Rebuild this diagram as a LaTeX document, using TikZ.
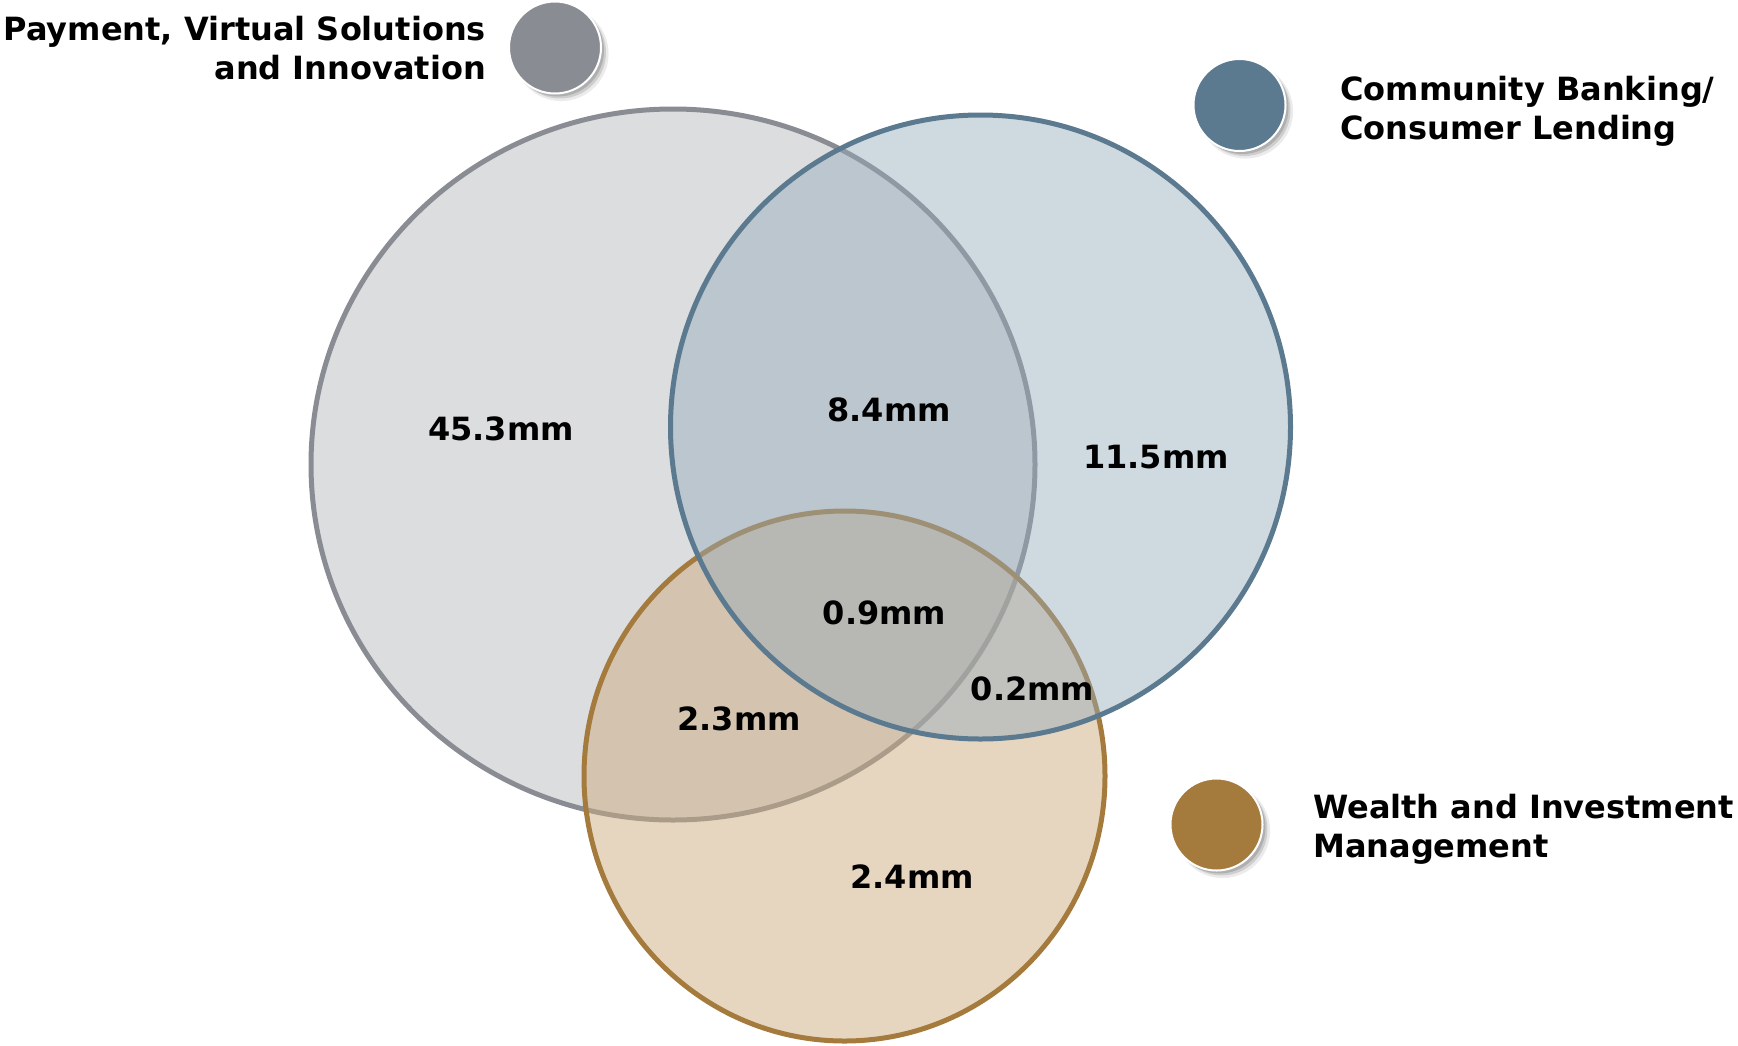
\documentclass[tikz,border=0pt]{standalone}
\usepackage{fontspec}
\setmainfont{DejaVu Sans}
\usetikzlibrary{shapes.geometric,shadows}

\definecolor{grayfill}{RGB}{220,221,223}
\definecolor{graystroke}{RGB}{138,140,147}
\definecolor{brownbase}{RGB}{205,173,129}
\definecolor{brownstroke}{RGB}{165,122,61}
\definecolor{bluebase}{RGB}{148,171,186}
\definecolor{bluestroke}{RGB}{91,122,144}
\definecolor{graydot}{RGB}{138,140,148}

\begin{document}
\begin{tikzpicture}[x=1pt,y=-1pt,
  setshape/.style={ellipse, inner sep=0pt, line width=5pt},
  legenddot/.style={circle, minimum size=92pt, inner sep=0pt, draw=white, line width=2pt,
    drop shadow={shadow xshift=6pt, shadow yshift=-6pt, opacity=0.08, fill=black, shadow scale=1.03},
    drop shadow={shadow xshift=5pt, shadow yshift=-5pt, opacity=0.12, fill=black},
    drop shadow={shadow xshift=3pt, shadow yshift=-3pt, opacity=0.15, fill=black}},
  lbl/.style={font=\fontsize{32}{39}\selectfont\bfseries, inner sep=0pt},
  num/.style={font=\fontsize{32}{39}\selectfont\bfseries, inner sep=0pt}
]
\useasboundingbox (0,0) rectangle (1738,1045);

% sets
\node[setshape, minimum width=724pt, minimum height=711pt, fill=grayfill, draw=graystroke] (pay) at (673,464.5) {};
\node[setshape, minimum width=521pt, minimum height=530pt, fill=brownbase, fill opacity=0.5, draw=brownstroke] (wim) at (844.5,776) {};
\node[setshape, minimum width=620pt, minimum height=624pt, fill=bluebase, fill opacity=0.45, draw=bluestroke] (cb) at (980.5,427) {};

% numbers
\node[num] (n453) at (501,429) {45.3mm};
\node[num] (n84)  at (889,410) {8.4mm};
\node[num] (n115) at (1156,457) {11.5mm};
\node[num] (n09)  at (884.5,613) {0.9mm};
\node[num] (n02)  at (1032.5,688.5) {0.2mm};
\node[num] (n23)  at (739,719) {2.3mm};
\node[num] (n24)  at (912,877) {2.4mm};

% legend
\node[legenddot, fill=graydot] (paydot) at (555,47.5) {};
\node[legenddot, fill=bluestroke] (cbdot) at (1239.5,105) {};
\node[legenddot, fill=brownstroke] (wimdot) at (1216.5,824.5) {};

\node[lbl, anchor=north east, align=right] (paylbl) at (486,16) {Payment, Virtual Solutions\\and Innovation};
\node[lbl, anchor=north west, align=left] (cblbl) at (1340,76) {Community Banking/\\Consumer Lending};
\node[lbl, anchor=north west, align=left] (wimlbl) at (1313,794) {Wealth and Investment\\Management};
\end{tikzpicture}
\end{document}
